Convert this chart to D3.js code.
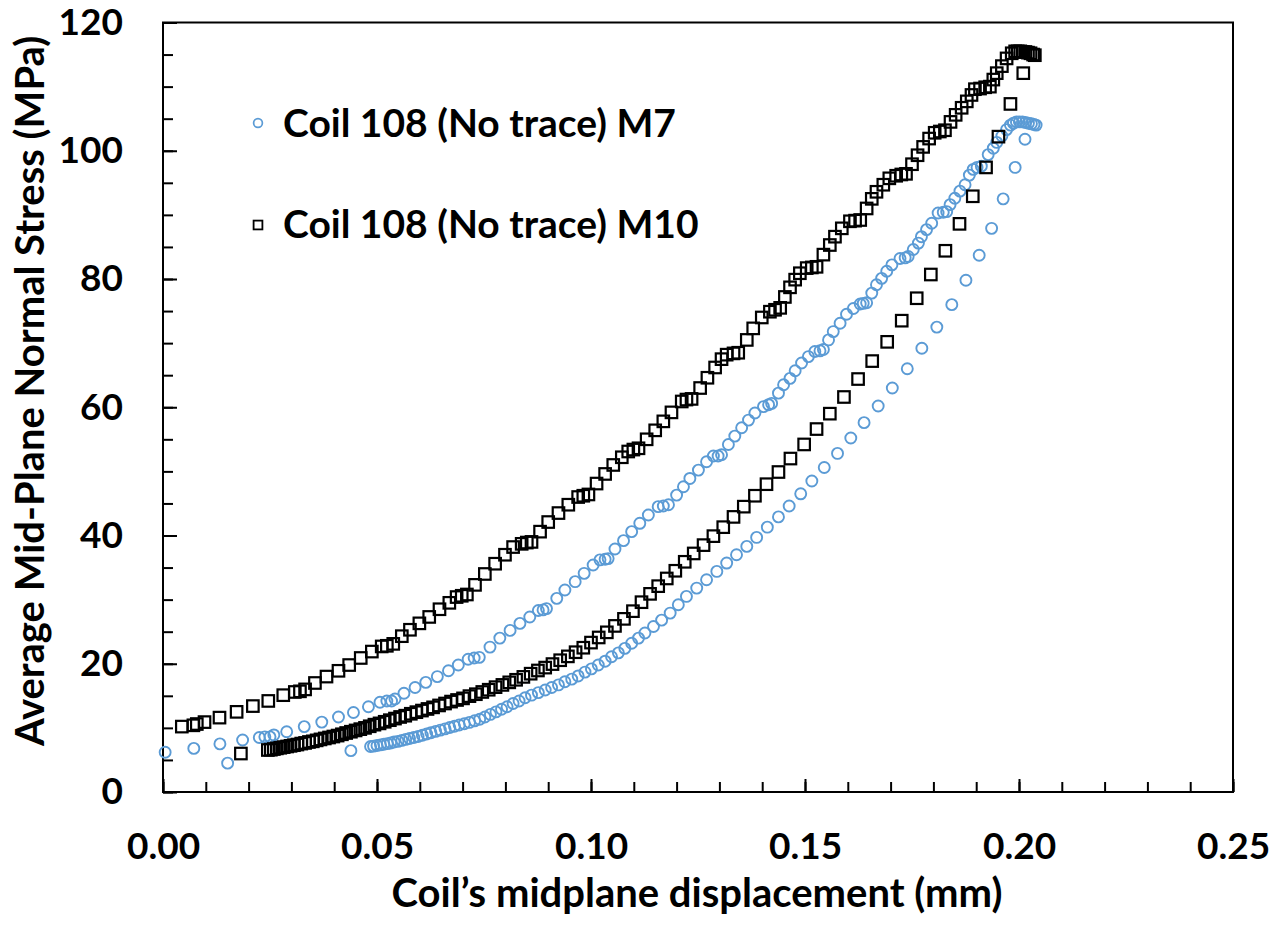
<!DOCTYPE html>
<html>
<head>
<meta charset="utf-8">
<script src="https://cdn.jsdelivr.net/npm/d3@7"></script>
<style>
  body { margin: 0; background: #fff; }
  text { font-family: Lato, "DejaVu Sans", sans-serif; font-weight: bold; fill: #000; font-variant-numeric: tabular-nums; }
</style>
</head>
<body>
<div id="chart"></div>
<script>
// ---- data: [displacement (mm), stress (MPa)] ----
var m7Load = [[0.0005,6.2],[0.0072,6.8],[0.0133,7.5],[0.0186,8.1],[0.0225,8.5],[0.0238,8.6],[0.0250,8.6],[0.0259,8.9],
  [0.0289,9.4],[0.0330,10.2],[0.0371,10.9],[0.0410,11.7],[0.0445,12.4],[0.0480,13.3],[0.0507,14.0],[0.0523,14.2],
  [0.0534,14.2],[0.0542,14.5],[0.0563,15.4],[0.0589,16.3],[0.0614,17.1],[0.0641,18.0],[0.0667,18.9],[0.0690,19.8],
  [0.0713,20.7],[0.0727,20.9],[0.0739,21.0],[0.0764,22.6],[0.0787,24.0],[0.0811,25.2],[0.0834,26.3],[0.0857,27.3],
  [0.0877,28.3],[0.0888,28.4],[0.0896,28.6],[0.0920,30.2],[0.0939,31.5],[0.0963,32.8],[0.0984,34.1],[0.1005,35.4],
  [0.1021,36.2],[0.1033,36.3],[0.1040,36.4],[0.1056,37.9],[0.1076,39.2],[0.1095,40.6],[0.1114,41.9],[0.1134,43.2],
  [0.1157,44.5],[0.1169,44.6],[0.1181,44.8],[0.1200,46.3],[0.1216,47.6],[0.1231,48.9],[0.1251,50.2],[0.1270,51.5],
  [0.1286,52.4],[0.1297,52.4],[0.1305,52.6],[0.1321,54.2],[0.1336,55.5],[0.1352,56.8],[0.1368,58.0],[0.1383,59.1],
  [0.1403,60.1],[0.1415,60.4],[0.1422,60.6],[0.1438,62.2],[0.1450,63.5],[0.1465,64.5],[0.1477,65.7],[0.1492,66.9],
  [0.1508,67.9],[0.1523,68.7],[0.1535,68.8],[0.1543,69.0],[0.1555,70.5],[0.1566,71.8],[0.1582,73.1],[0.1597,74.5],
  [0.1613,75.4],[0.1629,76.1],[0.1636,76.2],[0.1644,76.3],[0.1656,77.8],[0.1667,79.1],[0.1679,80.1],[0.1691,81.2],
  [0.1703,82.2],[0.1722,83.2],[0.1734,83.3],[0.1741,83.5],[0.1753,84.6],[0.1765,85.6],[0.1772,86.6],[0.1784,87.7],
  [0.1796,88.7],[0.1811,90.3],[0.1823,90.4],[0.1831,90.5],[0.1839,91.6],[0.1850,92.6],[0.1862,93.7],[0.1874,94.7],
  [0.1884,96.2],[0.1893,97.1],[0.1902,97.4],[0.1912,97.6],[0.1928,99.4],[0.1940,100.4],[0.1948,101.3],[0.1960,102.3],
  [0.1971,103.3],[0.1980,104.0],[0.1987,104.3],[0.1994,104.5],[0.2001,104.5],[0.2008,104.5],[0.2015,104.4],
  [0.2022,104.3],[0.2029,104.2],[0.2035,104.1],[0.2040,104.0]];

var m7Unload = [[0.2014,101.8],[0.1991,97.4],[0.1963,92.5],[0.1936,87.9],[0.1907,83.7],[0.1876,79.8],[0.1843,76.0],
  [0.1808,72.5],[0.1773,69.2],[0.1739,66.0],[0.1704,63.0],[0.1671,60.2],[0.1638,57.6],[0.1607,55.2],[0.1576,52.8],
  [0.1545,50.6],[0.1516,48.5],[0.1490,46.5],[0.1463,44.6],[0.1438,42.9],[0.1412,41.3],[0.1387,39.7],[0.1364,38.3],
  [0.1340,37.0],[0.1317,35.7],[0.1294,34.4],[0.1270,33.1],[0.1247,31.8],[0.1223,30.5],[0.1204,29.2],[0.1185,27.9],
  [0.1165,26.8],[0.1146,25.8],[0.1126,24.8],[0.1111,24.0],[0.1095,23.2],[0.1079,22.4],[0.1064,21.7],[0.1048,21.1],
  [0.1033,20.4],[0.1017,19.8],[0.1001,19.2],[0.0986,18.7],[0.0970,18.1],[0.0955,17.6],[0.0939,17.2],[0.0924,16.7],
  [0.0908,16.3],[0.0893,15.9],[0.0877,15.5],[0.0861,15.1],[0.0846,14.7],[0.0832,14.2],[0.0818,13.8],[0.0804,13.3],
  [0.0791,12.9],[0.0778,12.5],[0.0765,12.1],[0.0752,11.7],[0.0740,11.35],[0.0728,11.1],[0.0716,10.85],[0.0704,10.65],
  [0.0692,10.45],[0.0681,10.25],[0.0670,10.05],[0.0659,9.85],[0.0648,9.65],[0.0637,9.45],[0.0626,9.25],[0.0616,9.05],
  [0.0606,8.85],[0.0596,8.65],[0.0586,8.5],[0.0576,8.35],[0.0567,8.2],[0.0558,8.05],[0.0549,7.9],[0.0540,7.8],
  [0.0532,7.65],[0.0524,7.55],[0.0516,7.45],[0.0508,7.35],[0.0500,7.25],[0.0492,7.15],[0.0485,7.1],[0.0439,6.45],
  [0.0151,4.5]];

var m10Load = [[0.0044,10.2],[0.0071,10.4],[0.0079,10.6],[0.0097,10.9],[0.0132,11.6],[0.0172,12.5],[0.0210,13.4],
  [0.0246,14.2],[0.0281,15.1],[0.0308,15.6],[0.0320,15.7],[0.0332,16.0],[0.0355,17.0],[0.0382,18.0],[0.0410,18.9],
  [0.0435,19.8],[0.0462,20.9],[0.0488,21.9],[0.0511,22.7],[0.0523,22.8],[0.0538,23.1],[0.0558,24.3],[0.0577,25.3],
  [0.0599,26.3],[0.0622,27.3],[0.0646,28.5],[0.0669,29.5],[0.0686,30.4],[0.0698,30.6],[0.0710,30.8],[0.0729,32.3],
  [0.0752,34.0],[0.0776,35.6],[0.0799,37.0],[0.0818,38.2],[0.0838,38.7],[0.0850,38.9],[0.0861,39.0],[0.0881,40.6],
  [0.0900,42.1],[0.0924,43.5],[0.0947,44.8],[0.0970,46.0],[0.0982,46.2],[0.0994,46.4],[0.1013,48.1],[0.1033,49.6],
  [0.1052,51.0],[0.1072,52.2],[0.1087,53.1],[0.1099,53.4],[0.1111,53.6],[0.1130,55.0],[0.1150,56.4],[0.1169,57.8],
  [0.1188,59.2],[0.1212,60.9],[0.1223,61.2],[0.1235,61.3],[0.1255,63.0],[0.1272,64.6],[0.1290,66.2],[0.1305,67.5],
  [0.1317,68.2],[0.1333,68.4],[0.1344,68.5],[0.1364,70.5],[0.1379,72.3],[0.1399,74.0],[0.1418,74.9],[0.1430,75.2],
  [0.1442,75.5],[0.1453,77.2],[0.1465,78.7],[0.1477,79.9],[0.1488,80.9],[0.1504,81.7],[0.1516,81.8],[0.1527,81.9],
  [0.1543,83.8],[0.1558,85.3],[0.1570,86.6],[0.1586,87.9],[0.1605,89.0],[0.1617,89.1],[0.1629,89.2],[0.1644,91.0],
  [0.1656,92.5],[0.1667,93.6],[0.1683,94.7],[0.1697,95.7],[0.1713,96.1],[0.1725,96.3],[0.1736,96.4],[0.1750,97.9],
  [0.1763,99.3],[0.1776,100.6],[0.1790,101.9],[0.1803,102.8],[0.1815,103.0],[0.1827,103.2],[0.1840,104.5],
  [0.1852,105.6],[0.1866,106.7],[0.1878,107.7],[0.1889,108.7],[0.1897,109.6],[0.1909,109.7],[0.1921,109.9],
  [0.1932,110.0],[0.1940,111.1],[0.1948,112.1],[0.1960,113.2],[0.1971,114.4],[0.1983,115.2],[0.1991,115.5],
  [0.1997,115.5],[0.2003,115.5],[0.2009,115.4],[0.2015,115.4],[0.2021,115.3],[0.2027,115.2],[0.2033,115.0],
  [0.2037,114.9]];

var m10Unload = [[0.2010,112.1],[0.1980,107.3],[0.1952,102.2],[0.1923,97.4],[0.1892,92.9],[0.1861,88.6],[0.1828,84.4],
  [0.1794,80.7],[0.1761,77.0],[0.1726,73.5],[0.1692,70.2],[0.1657,67.2],[0.1624,64.4],[0.1591,61.6],[0.1558,59.0],
  [0.1527,56.6],[0.1498,54.2],[0.1466,52.0],[0.1438,49.9],[0.1410,48.0],[0.1383,46.2],[0.1357,44.5],[0.1333,42.9],
  [0.1309,41.3],[0.1286,39.9],[0.1263,38.5],[0.1240,37.2],[0.1219,35.9],[0.1197,34.5],[0.1177,33.3],[0.1157,32.1],
  [0.1138,30.9],[0.1118,29.6],[0.1098,28.2],[0.1077,27.0],[0.1056,25.9],[0.1037,24.9],[0.1018,24.1],[0.1000,23.3],
  [0.0982,22.5],[0.0964,21.8],[0.0946,21.15],[0.0928,20.55],[0.0910,19.95],[0.0893,19.4],[0.0876,18.95],[0.0859,18.45],
  [0.0842,17.95],[0.0825,17.5],[0.0809,17.1],[0.0793,16.7],[0.0777,16.35],[0.0761,15.95],[0.0746,15.6],[0.0731,15.25],
  [0.0716,14.95],[0.0701,14.6],[0.0687,14.35],[0.0673,14.1],[0.0659,13.8],[0.0645,13.5],[0.0631,13.2],[0.0618,12.95],
  [0.0605,12.7],[0.0592,12.45],[0.0579,12.2],[0.0566,11.9],[0.0554,11.7],[0.0542,11.45],[0.0530,11.2],[0.0518,10.95],
  [0.0506,10.7],[0.0494,10.5],[0.0483,10.25],[0.0472,10.0],[0.0461,9.8],[0.0450,9.6],[0.0439,9.4],[0.0428,9.2],
  [0.0418,9.0],[0.0408,8.8],[0.0398,8.65],[0.0388,8.5],[0.0378,8.35],[0.0368,8.2],[0.0359,8.05],[0.0350,7.9],
  [0.0341,7.8],[0.0332,7.65],[0.0323,7.55],[0.0314,7.4],[0.0306,7.3],[0.0298,7.2],[0.0290,7.1],[0.0282,7.0],
  [0.0274,6.9],[0.0266,6.8],[0.0259,6.7],[0.0252,6.6],[0.0245,6.55],[0.0182,6.0]];

var xTicks = [0, 0.05, 0.10, 0.15, 0.20, 0.25];
var yTicks = [0, 20, 40, 60, 80, 100, 120];
var seriesNames = ["Coil 108 (No trace) M7", "Coil 108 (No trace) M10"];
var xTitle = "Coil\u2019s midplane displacement (mm)";
var yTitle = "Average Mid-Plane Normal Stress (MPa)";

var W = 1272, H = 927;
var blue = "#5b9bd5";

var svg = d3.select("#chart").append("svg").attr("width", W).attr("height", H);
svg.append("rect").attr("width", W).attr("height", H).attr("fill", "#fff");

var x = d3.scaleLinear().domain([0, 0.25]).range([163, 1233]);
var y = d3.scaleLinear().domain([0, 120]).range([792, 22.5]);

// minor ticks (inside)
var xMinor = d3.range(0, 0.2501, 0.01);
var yMinor = d3.range(0, 120.01, 5);

svg.append("g").attr("transform", "translate(0,792)")
  .call(d3.axisBottom(x).tickValues(xMinor).tickSize(-10).tickSizeOuter(0).tickFormat(""))
  .call(g => g.select(".domain").remove())
  .selectAll("line").attr("stroke", "#000").attr("stroke-width", 2);

svg.append("g").attr("transform", "translate(163,0)")
  .call(d3.axisLeft(y).tickValues(yMinor).tickSize(-10).tickSizeOuter(0).tickFormat(""))
  .call(g => g.select(".domain").remove())
  .selectAll("line").attr("stroke", "#000").attr("stroke-width", 2);

// major ticks + labels
var gx = svg.append("g").attr("transform", "translate(0,792)")
  .call(d3.axisBottom(x).tickValues(xTicks).tickSize(-13).tickSizeOuter(0).tickPadding(41).tickFormat(d3.format(".2f")));
gx.select(".domain").remove();
gx.selectAll("line").attr("stroke", "#000").attr("stroke-width", 2);
gx.selectAll("text").attr("font-size", 37).attr("font-family", null).attr("fill", "#000");

var gy = svg.append("g").attr("transform", "translate(163,0)")
  .call(d3.axisLeft(y).tickValues(yTicks).tickSize(-14).tickSizeOuter(0).tickPadding(40).tickFormat(d3.format("d")));
gy.select(".domain").remove();
gy.selectAll("line").attr("stroke", "#000").attr("stroke-width", 2);
gy.selectAll("text").attr("font-size", 37).attr("font-family", null).attr("fill", "#000");

// plot frame
svg.append("rect")
  .attr("x", x(0)).attr("y", y(120))
  .attr("width", x(0.25) - x(0)).attr("height", y(0) - y(120))
  .attr("fill", "none").attr("stroke", "#000").attr("stroke-width", 2);

// M7 circles
var m7 = m7Load.concat(m7Unload);
svg.append("g").selectAll("circle").data(m7).enter().append("circle")
  .attr("cx", d => x(d[0])).attr("cy", d => y(d[1])).attr("r", 5.5)
  .attr("fill", "none").attr("stroke", blue).attr("stroke-width", 1.9);

// M10 squares
var m10 = m10Load.concat(m10Unload);
var s = 11.5;
svg.append("g").selectAll("rect").data(m10).enter().append("rect")
  .attr("x", d => x(d[0]) - s / 2).attr("y", d => y(d[1]) - s / 2)
  .attr("width", s).attr("height", s)
  .attr("fill", "none").attr("stroke", "#000").attr("stroke-width", 2.2);

// legend
var leg = svg.append("g");
leg.append("circle").attr("cx", 258).attr("cy", 123).attr("r", 4.4)
  .attr("fill", "none").attr("stroke", blue).attr("stroke-width", 1.7);
leg.append("rect").attr("x", 258 - 4.4).attr("y", 225 - 4.4).attr("width", 8.8).attr("height", 8.8)
  .attr("fill", "none").attr("stroke", "#000").attr("stroke-width", 1.8);
leg.selectAll("text").data(seriesNames).enter().append("text")
  .attr("x", 283).attr("y", (d, i) => i == 0 ? 137 : 238)
  .attr("font-size", 39)
  .text(d => d);

// axis titles
svg.append("text").attr("x", 697).attr("y", 907).attr("text-anchor", "middle")
  .attr("font-size", 40).text(xTitle);
svg.append("text").attr("transform", "translate(44,391) rotate(-90)").attr("text-anchor", "middle")
  .attr("font-size", 40).text(yTitle);
</script>
</body>
</html>
